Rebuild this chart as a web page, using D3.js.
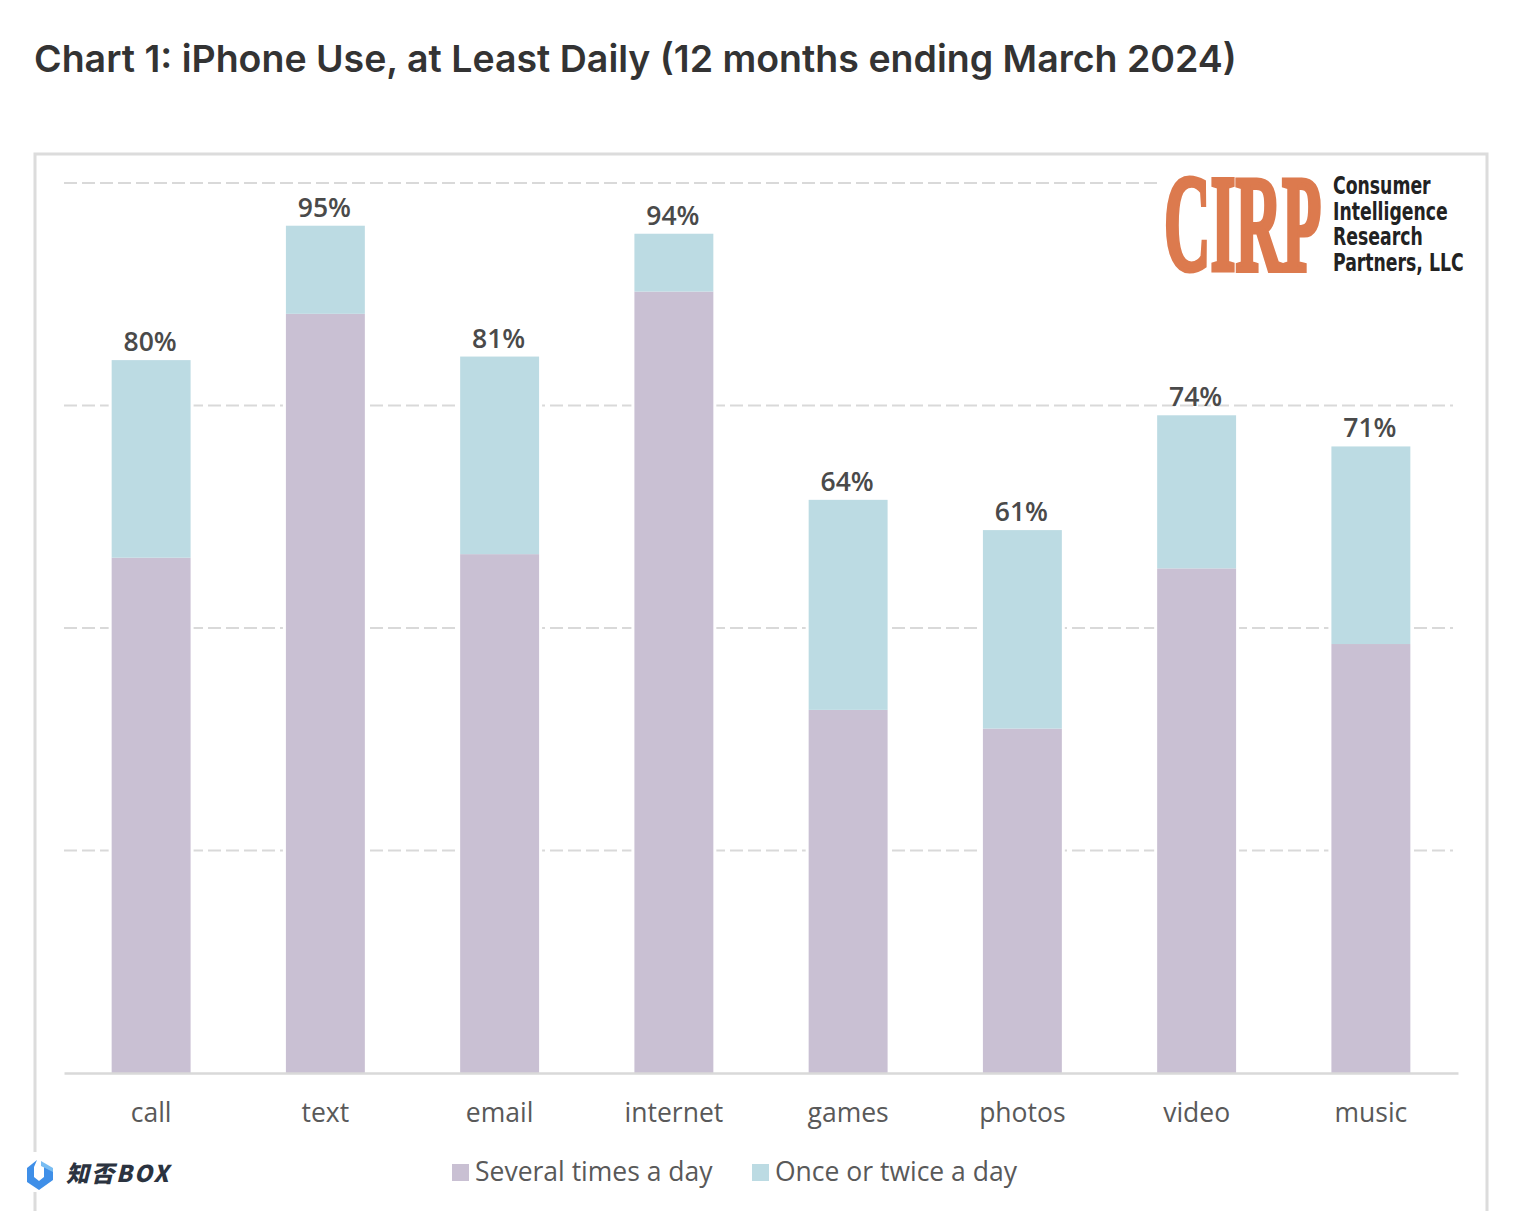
<!DOCTYPE html>
<html>
<head>
<meta charset="utf-8">
<script src="https://cdn.jsdelivr.net/npm/d3@7"></script>
<style>
  html, body { margin: 0; padding: 0; background: #fff; }
  svg { display: block; }
</style>
</head>
<body>
<div id="chart"></div>
<script>
var categories = ["call", "text", "email", "internet", "games", "photos", "video", "music"];
var severalTimes = [57.9, 85.3, 58.3, 87.8, 40.8, 38.7, 56.7, 48.2];
var onceOrTwice = [22.2, 9.9, 22.2, 6.5, 23.6, 22.3, 17.2, 22.2];
var totalLabels = ["80%", "95%", "81%", "94%", "64%", "61%", "74%", "71%"];
var seriesNames = ["Several times a day", "Once or twice a day"];
var seriesColors = ["#c9c0d3", "#bcdbe3"];
var gridTicks = [0, 25, 50, 75, 100];
var logoLines = ["Consumer", "Intelligence", "Research", "Partners, LLC"];

var width = 1526, height = 1211;
var labelFont = "'Open Sans', sans-serif";

var svg = d3.select("#chart").append("svg")
  .attr("width", width)
  .attr("height", height);

svg.append("text")
  .attr("x", 34)
  .attr("y", 72)
  .style("font-family", "Inter, sans-serif")
  .style("font-size", "37.5px")
  .style("font-weight", 600)
  .style("fill", "#333")
  .text("Chart 1: iPhone Use, at Least Daily (12 months ending March 2024)");

// frame around the pasted chart, runs off the bottom of the page
svg.append("path")
  .attr("d", "M35,1211V154H1487V1211")
  .attr("fill", "none")
  .attr("stroke", "#dcdcdc")
  .attr("stroke-width", 3);

var xScale = d3.scaleBand()
  .domain(categories)
  .range([64, 1458])
  .paddingInner(0.547)
  .paddingOuter(0.2735);

var yScale = d3.scaleLinear()
  .domain([0, 100])
  .range([1073, 183]);

// gridlines
svg.append("g")
  .selectAll("line")
  .data(gridTicks.filter(function(d) { return d > 0; }))
  .enter().append("line")
  .attr("x1", 64)
  .attr("x2", 1453)
  .attr("y1", function(d) { return yScale(d); })
  .attr("y2", function(d) { return yScale(d); })
  .attr("stroke", "#d9d9d9")
  .attr("stroke-width", 2)
  .attr("stroke-dasharray", "13 5");

// white halo so the gridlines stop short of the bars
svg.append("g")
  .selectAll("rect")
  .data(categories)
  .enter().append("rect")
  .attr("x", function(d) { return xScale(d) - 3; })
  .attr("width", xScale.bandwidth() + 6)
  .attr("y", function(d, i) { return yScale(severalTimes[i] + onceOrTwice[i]); })
  .attr("height", function(d, i) { return yScale(0) - yScale(severalTimes[i] + onceOrTwice[i]); })
  .attr("fill", "#fff");

var bars = svg.append("g");

bars.selectAll(".several")
  .data(categories)
  .enter().append("rect")
  .attr("class", "several")
  .attr("x", function(d) { return xScale(d); })
  .attr("width", xScale.bandwidth())
  .attr("y", function(d, i) { return yScale(severalTimes[i]); })
  .attr("height", function(d, i) { return yScale(0) - yScale(severalTimes[i]); })
  .attr("fill", seriesColors[0]);

bars.selectAll(".once")
  .data(categories)
  .enter().append("rect")
  .attr("class", "once")
  .attr("x", function(d) { return xScale(d); })
  .attr("width", xScale.bandwidth())
  .attr("y", function(d, i) { return yScale(severalTimes[i] + onceOrTwice[i]); })
  .attr("height", function(d, i) { return yScale(severalTimes[i]) - yScale(severalTimes[i] + onceOrTwice[i]); })
  .attr("fill", seriesColors[1]);

// totals above the bars
svg.append("g")
  .selectAll("text")
  .data(categories)
  .enter().append("text")
  .attr("x", function(d) { return xScale(d) + xScale.bandwidth() / 2 - 1; })
  .attr("y", function(d, i) { return yScale(severalTimes[i] + onceOrTwice[i]) - 9; })
  .style("font-family", labelFont)
  .style("font-size", "26.5px")
  .style("font-weight", 600)
  .style("fill", "#4a4a4a")
  .style("text-anchor", "middle")
  .text(function(d, i) { return totalLabels[i]; });

// baseline and category labels
var xAxis = svg.append("g")
  .attr("transform", "translate(0,1073)")
  .call(d3.axisBottom(xScale).tickSize(0).tickPadding(30));
xAxis.select(".domain").attr("stroke", "#d9d9d9").attr("stroke-width", 2.5);
xAxis.selectAll("text")
  .style("font-family", labelFont)
  .style("font-size", "26.5px")
  .style("font-weight", 500)
  .style("fill", "#595959");

// legend
var legendX = [452, 752];
var legend = svg.append("g")
  .selectAll("g")
  .data(seriesNames)
  .enter().append("g")
  .attr("transform", function(d, i) { return "translate(" + legendX[i] + ",1172)"; });
legend.append("rect")
  .attr("y", -8)
  .attr("width", 17)
  .attr("height", 17)
  .attr("fill", function(d, i) { return seriesColors[i]; });
legend.append("text")
  .attr("x", 23)
  .attr("y", 9)
  .style("font-family", labelFont)
  .style("font-size", "26.5px")
  .style("font-weight", 500)
  .style("fill", "#595959")
  .text(function(d) { return d; });

// CIRP logo, the top gridline stops at it
svg.append("rect")
  .attr("x", 1162).attr("y", 170).attr("width", 308).attr("height", 110)
  .attr("fill", "#fff");
svg.append("text")
  .attr("transform", "translate(1164,270) scale(0.7,1.5)")
  .style("font-family", "'Liberation Serif', serif")
  .style("font-size", "92px")
  .style("font-weight", 700)
  .style("fill", "#dc7a4e")
  .style("stroke", "#dc7a4e")
  .style("stroke-width", 3.5)
  .text("CIRP");

svg.append("g")
  .selectAll("text")
  .data(logoLines)
  .enter().append("text")
  .attr("transform", function(d, i) { return "translate(1333," + (194 + i * 25.7) + ") scale(0.8,1)"; })
  .style("font-family", "'DejaVu Sans Condensed', 'DejaVu Sans', sans-serif")
  .style("font-size", "24px")
  .style("font-weight", 700)
  .style("fill", "#222")
  .text(function(d) { return d; });

// watermark, knocks a gap out of the frame
svg.append("rect")
  .attr("x", 24).attr("y", 1152).attr("width", 22).attr("height", 40)
  .attr("fill", "#fff");
svg.append("path")
  .attr("d", "M37,1160L27,1168V1182L39,1190L53,1180V1170L44,1166V1177L39,1181L34,1177V1167Z")
  .attr("fill", "#3f8fe8");
svg.append("path")
  .attr("d", "M41,1161L53,1168V1172L41,1166Z")
  .attr("fill", "#79bdf2");
svg.append("text")
  .attr("x", 66)
  .attr("y", 1182)
  .style("font-family", "'Noto Sans CJK SC', sans-serif")
  .style("font-size", "23px")
  .style("font-weight", 900)
  .style("font-style", "italic")
  .style("letter-spacing", "2px")
  .style("fill", "#2b3340")
  .text("知否BOX");
</script>
</body>
</html>
